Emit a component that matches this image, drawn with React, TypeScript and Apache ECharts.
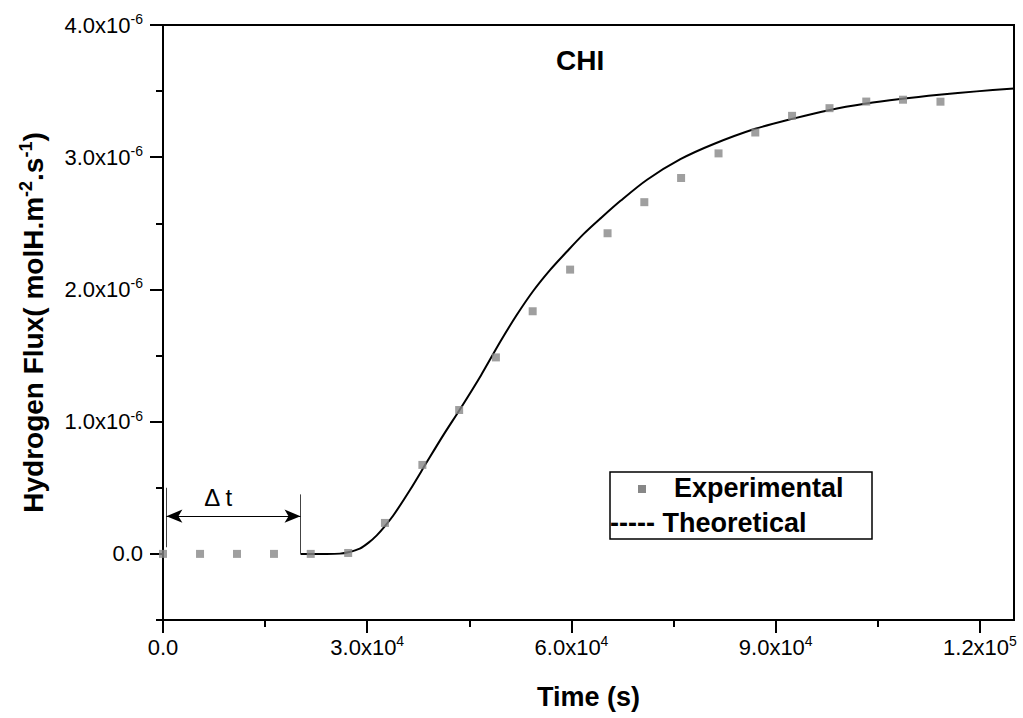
import React, { useEffect, useRef } from "react";
import * as echarts from "echarts";

const expTime = [0, 5440, 10870, 16300, 21700, 27200, 32600, 38100, 43500, 48900, 54300, 59800, 65300, 70700, 76100, 81600, 87000, 92400, 97900, 103300, 108700, 114200];
const expFlux = [0, 0, 0, 0, 0, 0.007e-6, 0.234e-6, 0.673e-6, 1.088e-6, 1.486e-6, 1.835e-6, 2.15e-6, 2.425e-6, 2.66e-6, 2.843e-6, 3.029e-6, 3.187e-6, 3.313e-6, 3.371e-6, 3.421e-6, 3.435e-6, 3.42e-6];

const theoTime = [20200, 24000, 26000, 27200, 28900, 30200, 31400, 32600, 33900, 36300, 38800, 41200, 43700, 46700, 49600, 52000, 54400, 56900, 59300, 61800, 64200, 67200, 71100, 76000, 80900, 87000, 92400, 97800, 103300, 108300, 114000, 119500, 125000];
const theoFlux = [0, 0, 0.002e-6, 0.012e-6, 0.04e-6, 0.085e-6, 0.14e-6, 0.21e-6, 0.296e-6, 0.485e-6, 0.698e-6, 0.9e-6, 1.1e-6, 1.35e-6, 1.61e-6, 1.81e-6, 1.99e-6, 2.15e-6, 2.285e-6, 2.42e-6, 2.534e-6, 2.67e-6, 2.83e-6, 2.985e-6, 3.1e-6, 3.215e-6, 3.29e-6, 3.356e-6, 3.406e-6, 3.44e-6, 3.472e-6, 3.498e-6, 3.52e-6];

const xMajorTicks = [0, 30000, 60000, 90000, 120000];
const xMinorTicks = [15000, 45000, 75000, 105000];
const yMajorTicks = [0, 1e-6, 2e-6, 3e-6, 4e-6];
const yMinorTicks = [-0.5e-6, 0.5e-6, 1.5e-6, 2.5e-6, 3.5e-6];

const deltaStart = 500;
const deltaEnd = 20200;

const FONT = "'Liberation Sans', Arial, Helvetica, sans-serif";

function sciLabel(v: number): string {
  if (Math.abs(v) < 1e-15) return "0.0";
  const exp = Math.floor(Math.log10(Math.abs(v)) + 1e-9);
  const mant = v / Math.pow(10, exp);
  return mant.toFixed(1) + "x10{sup|" + exp + "}";
}

const labelRich = {
  sup: { fontSize: 14, fontFamily: FONT, color: "#000", verticalAlign: "top", lineHeight: 13 },
};

export default function App() {
  const ref = useRef<HTMLDivElement>(null);
  useEffect(() => {
    if (!ref.current) return;
    const chart = echarts.init(ref.current, null, { renderer: "svg" });
    const commonLabel = {
      fontSize: 22,
      fontFamily: FONT,
      color: "#000",
      lineHeight: 26,
      formatter: (v: number) => sciLabel(v),
      rich: labelRich,
    };
    chart.setOption({
      animation: false,
      backgroundColor: "#fff",
      title: {
        text: "CHI",
        left: 551,
        top: 41,
        textStyle: { fontSize: 28, fontWeight: "bold", fontFamily: FONT, color: "#000" },
      },
      grid: {
        left: 163,
        right: 9,
        top: 25,
        bottom: 98,
        show: true,
        borderColor: "#000",
        borderWidth: 2,
        containLabel: false,
      },
      xAxis: [
        {
          type: "value",
          min: 0,
          max: 125000,
          name: "Time (s)",
          nameLocation: "middle",
          nameGap: 63,
          nameTextStyle: { fontSize: 27, fontWeight: "bold", fontFamily: FONT, color: "#000" },
          axisLine: { show: true, onZero: false, lineStyle: { color: "#000", width: 2 } },
          axisTick: { show: true, inside: false, length: 13, lineStyle: { color: "#000", width: 2 }, customValues: xMajorTicks },
          axisLabel: { ...commonLabel, margin: 14, customValues: xMajorTicks },
          splitLine: { show: false },
        },
        {
          type: "value",
          min: 0,
          max: 125000,
          position: "bottom",
          axisLine: { show: false, onZero: false },
          axisTick: { show: true, inside: false, length: 7, lineStyle: { color: "#000", width: 2 }, customValues: xMinorTicks },
          axisLabel: { show: false, customValues: xMinorTicks },
          splitLine: { show: false },
        },
      ],
      yAxis: [
        {
          type: "value",
          min: -0.5e-6,
          max: 4e-6,
          name: "Hydrogen Flux( molH.m{sup|-2}.s{sup|-1})",
          nameLocation: "middle",
          nameRotate: 90,
          nameGap: 114,
          nameTextStyle: {
            fontSize: 28,
            fontWeight: "bold",
            fontFamily: FONT,
            color: "#000",
            lineHeight: 32,
            rich: {
              sup: { fontSize: 18, fontWeight: "bold", fontFamily: FONT, color: "#000", verticalAlign: "top", lineHeight: 17 },
            },
          },
          axisLine: { show: true, onZero: false, lineStyle: { color: "#000", width: 2 } },
          axisTick: { show: true, inside: false, length: 13, lineStyle: { color: "#000", width: 2 }, customValues: yMajorTicks },
          axisLabel: { ...commonLabel, margin: 20, customValues: yMajorTicks },
          splitLine: { show: false },
        },
        {
          type: "value",
          min: -0.5e-6,
          max: 4e-6,
          position: "left",
          axisLine: { show: false, onZero: false },
          axisTick: { show: true, inside: false, length: 7, lineStyle: { color: "#000", width: 2 }, customValues: yMinorTicks },
          axisLabel: { show: false, customValues: yMinorTicks },
          splitLine: { show: false },
        },
      ],
      series: [
        {
          name: "Theoretical",
          type: "line",
          data: theoTime.map((t, i) => [t, theoFlux[i]]),
          smooth: 0.3,
          showSymbol: false,
          symbol: "none",
          lineStyle: { color: "#000", width: 2 },
          z: 2,
          markLine: {
            silent: true,
            symbol: ["none", "none"],
            label: { show: false },
            lineStyle: { color: "#444", width: 1, type: "solid" },
            emphasis: { disabled: true },
            data: [
              [
                { coord: [deltaStart, 0.05e-6] },
                { coord: [deltaStart, 0.5e-6] },
              ],
              [
                { coord: [deltaEnd, 0] },
                { coord: [deltaEnd, 0.45e-6] },
              ],
              [
                { coord: [deltaStart, 0.285e-6], symbol: "arrow", symbolSize: [10, 16], lineStyle: { color: "#000", width: 1 } },
                { coord: [deltaEnd, 0.285e-6], symbol: "arrow", symbolSize: [10, 16] },
              ],
            ],
          },
          markPoint: {
            silent: true,
            symbol: "rect",
            symbolSize: 0,
            label: {
              show: true,
              formatter: "Δ t",
              fontSize: 24,
              fontFamily: FONT,
              color: "#000",
            },
            data: [{ coord: [8100, 0.425e-6] }],
          },
        },
        {
          name: "Experimental",
          type: "scatter",
          data: expTime.map((t, i) => [t, expFlux[i]]),
          symbol: "rect",
          symbolSize: 8,
          itemStyle: { color: "#878787" },
          z: 3,
        },
      ],
      graphic: [
        {
          type: "rect",
          shape: { x: 610, y: 472, width: 262, height: 67 },
          style: { fill: "#fff", stroke: "#000", lineWidth: 1.5 },
          z: 10,
        },
        {
          type: "rect",
          shape: { x: 638, y: 485, width: 8, height: 8 },
          style: { fill: "#878787" },
          z: 11,
        },
        {
          type: "text",
          x: 674,
          y: 488,
          style: { text: "Experimental", font: "bold 27px " + FONT, fill: "#000", verticalAlign: "middle", align: "left" },
          z: 11,
        },
        {
          type: "text",
          x: 610,
          y: 523,
          style: { text: "----- Theoretical", font: "bold 27px " + FONT, fill: "#000", verticalAlign: "middle", align: "left" },
          z: 11,
        },
      ],
    });
    return () => chart.dispose();
  }, []);
  return <div ref={ref} style={{ position: "fixed", left: 0, top: 0, width: 1023, height: 718, background: "#fff" }} />;
}
